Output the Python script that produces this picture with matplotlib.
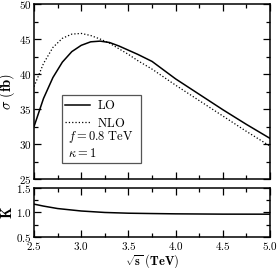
import matplotlib
matplotlib.use("Agg")
import matplotlib.pyplot as plt
from matplotlib.patches import Rectangle
from matplotlib.ticker import MultipleLocator, FormatStrFormatter

plt.rcParams["mathtext.fontset"] = "cm"
plt.rcParams["font.family"] = "DejaVu Serif"
plt.rcParams["font.size"] = 9

# sqrt(s) in TeV
sqrt_s = [2.5, 2.6, 2.7, 2.8, 2.9, 3.0, 3.1, 3.2, 3.3, 3.4, 3.5, 3.6,
          3.75, 4.0, 4.25, 4.5, 4.75, 5.0]
sigma_lo = [32.5, 36.5, 39.5, 41.7, 43.2, 44.1, 44.6, 44.7, 44.5, 44.0,
            43.4, 42.8, 41.8, 39.3, 37.1, 34.9, 32.8, 30.8]
sigma_nlo = [38.2, 41.5, 43.8, 45.1, 45.7, 45.8, 45.5, 45.0, 44.4, 43.6,
             42.8, 41.9, 40.7, 38.4, 36.2, 34.0, 31.8, 29.7]

k_s = [2.5, 2.6, 2.75, 3.0, 3.25, 3.5, 3.75, 4.0, 4.5, 5.0]
k_factor = [1.17, 1.13, 1.08, 1.03, 1.0, 0.985, 0.978, 0.972, 0.966, 0.965]

fig = plt.figure(figsize=(2.79, 2.68), dpi=100)
ax = fig.add_axes([0.122, 0.332, 0.846, 0.653])
axk = fig.add_axes([0.122, 0.1157, 0.846, 0.183])

ax.plot(sqrt_s, sigma_lo, "k-", lw=1.1)
ax.plot(sqrt_s, sigma_nlo, "k:", lw=0.9)
axk.plot(k_s, k_factor, "k-", lw=1.1)

for a in (ax, axk):
    a.set_xlim(2.5, 5.0)
    a.xaxis.set_major_locator(MultipleLocator(0.5))
    a.xaxis.set_minor_locator(MultipleLocator(0.25))
    a.tick_params(which="both", direction="in", top=True, right=True,
                  width=0.9, labelsize=8, pad=2)
    a.tick_params(which="major", length=5)
    a.tick_params(which="minor", length=3)
    for sp in a.spines.values():
        sp.set_linewidth(1.1)

ax.set_ylim(25, 50)
ax.yaxis.set_major_locator(MultipleLocator(5))
ax.yaxis.set_minor_locator(MultipleLocator(2.5))
ax.yaxis.set_major_formatter(FormatStrFormatter(r"$%d$"))
ax.tick_params(labelbottom=False)

axk.set_ylim(0.5, 1.5)
axk.yaxis.set_major_locator(MultipleLocator(0.5))
axk.yaxis.set_minor_locator(MultipleLocator(0.25))
axk.yaxis.set_major_formatter(FormatStrFormatter(r"$%.1f$"))
axk.xaxis.set_major_formatter(FormatStrFormatter(r"$%.1f$"))

ax.set_ylabel(r"$\mathbf{\sigma}\ \mathbf{(fb)}$", fontsize=10.5)
ax.yaxis.set_label_coords(-0.072, 0.5)
axk.set_ylabel(r"$\mathbf{K}$", fontsize=10.5)
axk.yaxis.set_label_coords(-0.08, 0.5)
axk.set_xlabel(r"$\sqrt{\mathbf{s}}\ \mathbf{(TeV)}$", fontsize=9,
               labelpad=0)

# legend box
ax.add_patch(Rectangle((0.119, 0.091), 0.334, 0.389, transform=ax.transAxes,
                       fill=False, ec="#555555", lw=0.9, zorder=3))
ax.legend(["$\\mathrm{LO}$", "$\\mathrm{NLO}$"], loc="upper left",
          bbox_to_anchor=(0.12, 0.47), frameon=False, fontsize=9,
          handlelength=2.0, handletextpad=0.6, labelspacing=0.35,
          borderaxespad=0.0, borderpad=0.2)
ax.text(0.145, 0.238, r"$f = 0.8\ \mathrm{TeV}$", transform=ax.transAxes,
        fontsize=9, va="center")
ax.text(0.145, 0.148, r"$\kappa = 1$", transform=ax.transAxes,
        fontsize=9, va="center")

fig.savefig("out.png", dpi=100)
